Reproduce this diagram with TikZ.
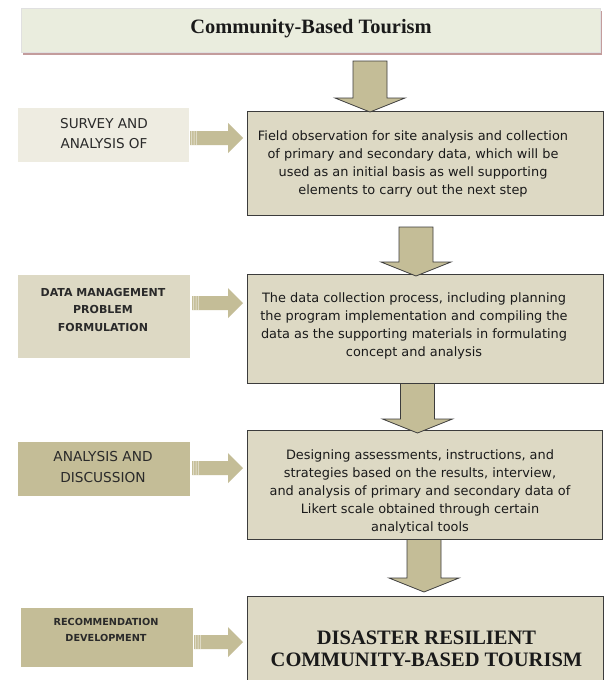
\documentclass[tikz,border=0pt]{standalone}
\usepackage{fontspec}
\setmainfont{Liberation Serif}
\newfontfamily\bodyfont{DejaVu Sans}
\newfontfamily\labelfont{DejaVu Sans}
\usetikzlibrary{calc}
\definecolor{tanD}{HTML}{C4BD97}
\definecolor{tanM}{HTML}{DDD9C4}
\definecolor{tanL}{HTML}{EEECE1}
\definecolor{titlefill}{HTML}{EAEDDE}
\definecolor{titleshadow}{HTML}{C39C9C}
\definecolor{edge}{HTML}{3C3C3C}
\definecolor{ink}{HTML}{1A1A1A}
\definecolor{labink}{HTML}{2A2A2A}
\tikzset{
  titlebox/.style={fill=titlefill, draw=black!12, line width=0.4pt, minimum width=579pt, minimum height=44pt, anchor=north west, inner sep=0pt},
  mainbox/.style={fill=tanM, draw=edge, line width=1.1pt, anchor=north west, inner sep=0pt},
  labbox/.style={draw=none, anchor=north west, inner sep=0pt},
  maintext/.style={font=\bodyfont\fontsize{12.9}{18}\selectfont, text=ink, align=center, inner sep=0pt},
  labtext/.style={text=labink, align=center, inner sep=0pt},
  blockarrow/.style={fill=tanD, draw=edge, line width=0.8pt, line join=miter},
  sidearrow/.style={fill=tanD, draw=none},
}
\newcommand\dnarrow[2]{%
  \draw[blockarrow] let \p1=(#1), \p2=(#2) in
   (\x1-17pt,\y1) -- (\x1+17pt,\y1) -- (\x1+17pt,\y2+14pt) -- (\x1+35pt,\y2+14pt)
   -- (\x1,\y2) -- (\x1-35pt,\y2+14pt) -- (\x1-17pt,\y2+14pt) -- cycle;}
\newcommand\rtarrow[2]{%
  \fill[sidearrow] let \p1=(#1), \p2=(#2) in
   (\x1,\y1-7pt) -- (\x2-15pt,\y1-7pt) -- (\x2-15pt,\y1-15pt) -- (\x2,\y1)
   -- (\x2-15pt,\y1+15pt) -- (\x2-15pt,\y1+7pt) -- (\x1,\y1+7pt) -- cycle;
  \fill[white, opacity=0.45] let \p1=(#1) in
   (\x1+1pt,\y1-7pt) rectangle (\x1+2pt,\y1+7pt)
   (\x1+3.5pt,\y1-7pt) rectangle (\x1+4.5pt,\y1+7pt)
   (\x1+6pt,\y1-7pt) rectangle (\x1+6.8pt,\y1+7pt);}
\begin{document}
\begin{tikzpicture}[x=1pt, y=-1pt]
\useasboundingbox (0,0) rectangle (604,680);
\fill[white] (0,0) rectangle (604,680);
% title
\fill[titleshadow] (23,11) rectangle (602,55);
\node[titlebox] (title) at (21,8) {};
\node[font=\bfseries\fontsize{20.4}{22}\selectfont, text=ink, inner sep=0pt] (titletext) at (311,29) {Community-Based Tourism};
% main boxes
\node[mainbox, minimum width=356pt, minimum height=104pt] (b1) at (247,111) {};
\node[mainbox, minimum width=356pt, minimum height=109pt] (b2) at (247,274) {};
\node[mainbox, minimum width=355pt, minimum height=109pt] (b3) at (247,430) {};
\node[mainbox, minimum width=356pt, minimum height=100pt] (b4) at (247,596) {};
\node[maintext] (t1) at (413,163.5) {Field observation for site analysis  and collection\\of primary and secondary data, which will be\\used as an initial basis as well supporting\\elements to carry  out the next step};
\node[maintext] (t2) at (414,325.5) {The data collection process,  including planning\\the program implementation and  compiling the\\data as the supporting materials in formulating\\concept and analysis};
\begin{scope}
\clip (248,431) rectangle (601,532);
\node[maintext] (t3) at (420,492) {Designing assessments, instructions, and\\strategies based on the results, interview,\\and analysis  of primary and secondary data of\\Likert scale obtained through certain\\analytical  tools};
\end{scope}
\node[font=\bfseries\fontsize{20.5}{22}\selectfont, text=ink, align=center, inner sep=0pt] (t4) at (426.5,649) {DISASTER RESILIENT\\COMMUNITY-BASED TOURISM};
% label boxes
\node[labbox, fill=tanL, minimum width=171pt, minimum height=54pt] (l1) at (18,108) {};
\node[labbox, fill=tanM, minimum width=172pt, minimum height=83pt] (l2) at (18,275) {};
\node[labbox, fill=tanD, minimum width=172pt, minimum height=54pt] (l3) at (18,442) {};
\node[labbox, fill=tanD, minimum width=172pt, minimum height=59pt] (l4) at (21,608) {};
\node[labtext, font=\labelfont\fontsize{13.6}{20}\selectfont] (lt1) at (104,133.5) {SURVEY AND\\ANALYSIS OF};
\node[labtext, font=\labelfont\bfseries\fontsize{11}{17.5}\selectfont] (lt2) at (103,309.5) {DATA  MANAGEMENT\\PROBLEM\\FORMULATION};
\node[labtext, font=\labelfont\fontsize{13.7}{21}\selectfont] (lt3) at (103,467.5) {ANALYSIS  AND\\DISCUSSION};
\node[labtext, font=\labelfont\bfseries\fontsize{9.7}{16}\selectfont] (lt4) at (106,630) {RECOMMENDATION\\DEVELOPMENT};
% side arrows
\coordinate (s1a) at (190,138); \coordinate (s1b) at (243,138);
\coordinate (s2a) at (192,303); \coordinate (s2b) at (243,303);
\coordinate (s3a) at (192,468); \coordinate (s3b) at (243,468);
\coordinate (s4a) at (194,642); \coordinate (s4b) at (243,642);
\rtarrow{s1a}{s1b}
\rtarrow{s2a}{s2b}
\rtarrow{s3a}{s3b}
\rtarrow{s4a}{s4b}
% down arrows
\coordinate (d1a) at (370,61);  \coordinate (d1b) at (370,112);
\coordinate (d2a) at (416,227); \coordinate (d2b) at (416,276);
\coordinate (d3a) at (417.5,383.5); \coordinate (d3b) at (417.5,433);
\coordinate (d4a) at (424,539.5); \coordinate (d4b) at (424,592);
\dnarrow{d1a}{d1b}
\dnarrow{d2a}{d2b}
\dnarrow{d3a}{d3b}
\dnarrow{d4a}{d4b}
\end{tikzpicture}
\end{document}
